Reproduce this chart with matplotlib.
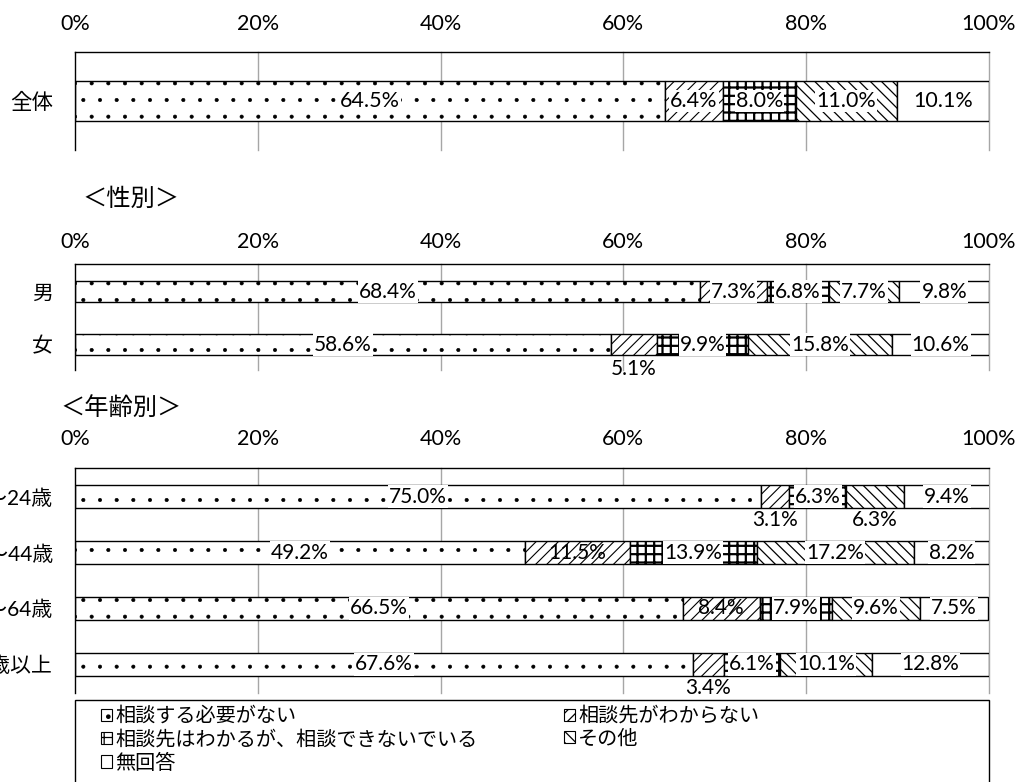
import numpy as np
import matplotlib.pyplot as plt
from matplotlib.patches import Patch, Rectangle

plt.rcParams['font.family'] = ['Lato', 'Noto Sans CJK JP', 'DejaVu Sans']
plt.rcParams['hatch.linewidth'] = 0.9
plt.rcParams['hatch.color'] = 'black'

# ---------------- data ----------------
answers = ['相談する必要がない', '相談先がわからない',
           '相談先はわかるが、相談できないでいる', 'その他', '無回答']
hatches = ['.', '///', '++', '\\\\\\', '']
hatch_lw = [0.45, 0.8, 1.6, 0.9, 0.9]

cats_all = ['全体']
vals_all = [[64.5, 6.4, 8.0, 11.0, 10.1]]

cats_sex = ['男', '女']
vals_sex = [[68.4, 7.3, 6.8, 7.7, 9.8],
            [58.6, 5.1, 9.9, 15.8, 10.6]]

cats_age = ['18～24歳', '25～44歳', '45～64歳', '65歳以上']
vals_age = [[75.0, 3.1, 6.3, 6.3, 9.4],
            [49.2, 11.5, 13.9, 17.2, 8.2],
            [66.5, 8.4, 7.9, 9.6, 7.5],
            [67.6, 3.4, 6.1, 10.1, 12.8]]

xticks = [0, 20, 40, 60, 80, 100]
xticklabels = ['0%', '20%', '40%', '60%', '80%', '100%']

W, H = 1019, 782
fig = plt.figure(figsize=(W / 100, H / 100), dpi=100)


def px_axes(x0, y0, x1, y1):
    return fig.add_axes([x0 / W, 1 - y1 / H, (x1 - x0) / W, (y1 - y0) / H])


def set_hlw(patch, lw):
    if hasattr(patch, 'set_hatch_linewidth'):
        patch.set_hatch_linewidth(lw)


def draw_panel(ax, cats, vals, ylim, bar_h, fs_lab, fs_cat, tick_pad,
               below=(), plain=(), below_off=0.43):
    vals = np.array(vals, dtype=float)
    y = np.arange(len(cats))
    lefts = np.zeros(len(cats))
    for j in range(vals.shape[1]):
        bars = ax.barh(y, vals[:, j], left=lefts, height=bar_h, color='white',
                       edgecolor='black', hatch=hatches[j], linewidth=1.0, zorder=2)
        for b in bars:
            set_hlw(b, hatch_lw[j])
        for i in range(len(cats)):
            cx = lefts[i] + vals[i, j] / 2
            txt = f'{vals[i, j]:.1f}%'
            if (i, j) in below:
                ax.text(cx, y[i] + below_off, txt, ha='center', va='center',
                        fontsize=fs_lab, zorder=4)
            elif (i, j) in plain:
                ax.text(cx, y[i], txt, ha='center', va='center',
                        fontsize=fs_lab, zorder=4)
            else:
                ax.text(cx, y[i], txt, ha='center', va='center',
                        fontsize=fs_lab, zorder=4,
                        bbox=dict(boxstyle='square,pad=0.05', fc='white', ec='none'))
        lefts += vals[:, j]

    ax.set_xlim(0, 100)
    ax.set_ylim(*ylim)
    for p in xticks[1:]:
        ax.axvline(p, color='#a6a6a6', lw=1, zorder=0, clip_on=False)
    for s in ['right', 'bottom']:
        ax.spines[s].set_visible(False)
    ax.spines['top'].set_linewidth(1.0)
    ax.spines['left'].set_linewidth(1.0)
    ax.set_xticks(xticks)
    ax.set_xticklabels(xticklabels, fontsize=15.5)
    ax.tick_params(axis='x', top=True, bottom=False, labeltop=True,
                   labelbottom=False, length=0, pad=tick_pad)
    ax.set_yticks(y)
    ax.set_yticklabels(cats, fontsize=fs_cat)
    ax.tick_params(axis='y', length=0, pad=16)
    ax.patch.set_alpha(0)


# panel 1: overall
ax1 = px_axes(75, 52, 989, 150)
draw_panel(ax1, cats_all, vals_all, (1.225, -1.225), 1.0, 15.5, 15.5, 13)

# panel 2: by sex
ax2 = px_axes(75, 264, 989, 370)
draw_panel(ax2, cats_sex, vals_sex, (1.481, -0.519), 0.41, 15, 15, 8.5,
           below={(1, 1)}, below_off=0.46)
fig.text(82 / W, 1 - 199 / H, '＜性別＞', fontsize=17.5, va='center', ha='left')

# panel 3: by age
ax3 = px_axes(75, 468, 989, 693)
draw_panel(ax3, cats_age, vals_age, (3.509, -0.509), 0.41, 15, 15, 13.5,
           below={(0, 1), (0, 3), (3, 1)}, plain={(1, 1), (2, 1)}, below_off=0.42)
fig.text(60 / W, 1 - 407 / H, '＜年齢別＞', fontsize=17.5, va='center', ha='left')

# legend box
fig.add_artist(Rectangle((75 / W, -0.02), 914 / W, 0.02 + (782 - 700) / H,
                         transform=fig.transFigure, fill=False, ec='black', lw=1))
handles = []
for h, lw in zip(hatches, hatch_lw):
    p = Patch(facecolor='white', edgecolor='black', hatch=h, lw=0.8)
    set_hlw(p, min(lw, 0.8))
    handles.append(p)
order = [0, 2, 4, 1, 3]
fig.legend([handles[k] for k in order], [answers[k] for k in order],
           loc='upper left', bbox_to_anchor=(101 / W, 1 - 706 / H), ncol=2,
           frameon=False, fontsize=14.5, handlelength=0.55, handleheight=0.55,
           handletextpad=0.15, labelspacing=0.22, columnspacing=4.3, borderpad=0,
           borderaxespad=0)

fig.savefig('out.png', dpi=100)
